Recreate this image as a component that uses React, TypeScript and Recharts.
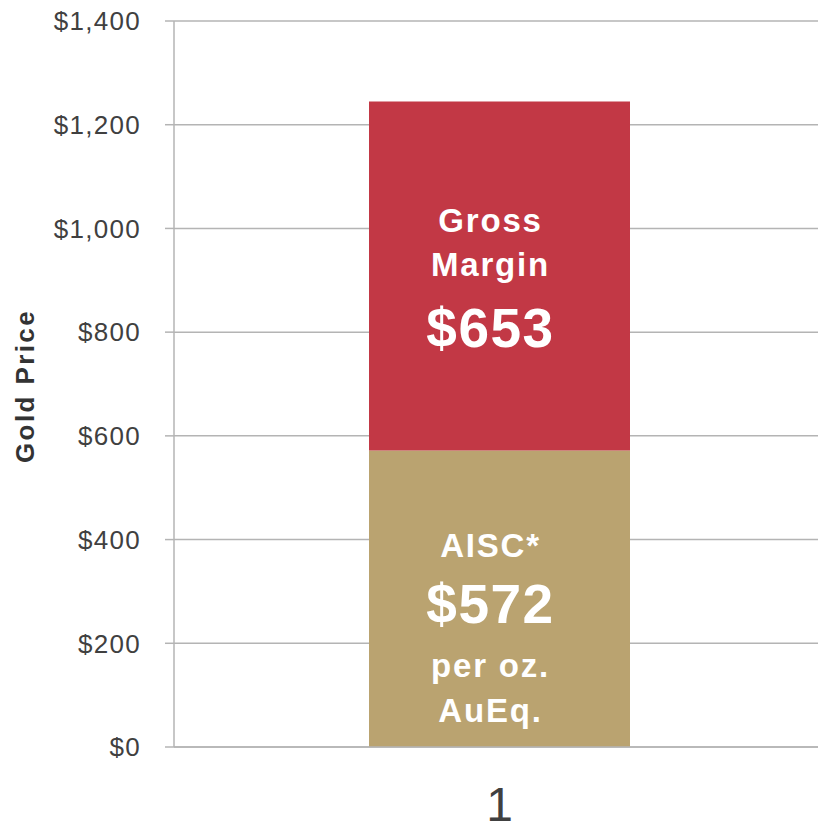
import React from 'react';
import { BarChart, Bar, XAxis, YAxis, CartesianGrid, Label } from 'recharts';

const categories = ['1'];
const aiscValues = [572];
const marginValues = [673];
const yTicks = [0, 200, 400, 600, 800, 1000, 1200, 1400];
const marginLabelLines = ['Gross', 'Margin', '$653'];
const aiscLabelLines = ['AISC*', '$572', 'per oz.', 'AuEq.'];

const data = categories.map((c, i) => ({ name: c, aisc: aiscValues[i], margin: marginValues[i] }));

const fmt = (v: number) => '$' + v.toLocaleString('en-US');

const FONT = '"Liberation Sans", Arial, sans-serif';

const MarginLabel = (props: any) => {
  const { x, y, width } = props;
  const cx = x + width / 2 - 9;
  return (
    <g fill="#ffffff" fontWeight="bold" fontFamily={FONT} textAnchor="middle">
      <text x={cx} y={y + 131} fontSize={33} letterSpacing={1.8}>{marginLabelLines[0]}</text>
      <text x={cx} y={y + 175} fontSize={33} letterSpacing={1.8}>{marginLabelLines[1]}</text>
      <text x={cx} y={y + 246} fontSize={55} letterSpacing={1.5}>{marginLabelLines[2]}</text>
    </g>
  );
};

const AiscLabel = (props: any) => {
  const { x, y, width } = props;
  const cx = x + width / 2 - 9;
  return (
    <g fill="#ffffff" fontWeight="bold" fontFamily={FONT} textAnchor="middle">
      <text x={cx} y={y + 107} fontSize={33} letterSpacing={1.8}>{aiscLabelLines[0]}</text>
      <text x={cx} y={y + 173} fontSize={55} letterSpacing={1.5}>{aiscLabelLines[1]}</text>
      <text x={cx} y={y + 227} fontSize={33} letterSpacing={1.8}>{aiscLabelLines[2]}</text>
      <text x={cx} y={y + 272} fontSize={33} letterSpacing={1.8}>{aiscLabelLines[3]}</text>
    </g>
  );
};

const YLabel = (props: any) => {
  const { viewBox } = props;
  const cy = viewBox.y + viewBox.height / 2 + 2;
  return (
    <text
      x={34}
      y={cy}
      transform={`rotate(-90 34 ${cy})`}
      textAnchor="middle"
      fontSize={26}
      fontWeight="bold"
      fill="#333333"
      letterSpacing={2.4}
      fontFamily={FONT}
    >
      Gold Price
    </text>
  );
};

export default function App() {
  return (
    <div style={{ position: 'absolute', left: 0, top: 0, fontFamily: FONT, background: '#fff' }}>
      <BarChart
        width={818}
        height={822}
        data={data}
        margin={{ top: 21, right: 0, bottom: 0, left: 0 }}
        barSize={261}
      >
        <CartesianGrid horizontal vertical={false} stroke="#b4b4b4" strokeWidth={1.5} />
        <XAxis
          dataKey="name"
          height={75}
          axisLine={{ stroke: '#b4b4b4', strokeWidth: 1.5 }}
          tickLine={false}
          tickSize={0}
          tickMargin={40}
          padding={{ left: 7, right: 0 }}
          tick={{ fontSize: 48, fill: '#404040' }}
        />
        <YAxis
          width={174}
          domain={[0, 1400]}
          ticks={yTicks}
          tickFormatter={fmt}
          axisLine={{ stroke: '#b4b4b4', strokeWidth: 1.5 }}
          tickLine={{ stroke: '#b4b4b4', strokeWidth: 1.5 }}
          tickSize={9}
          tickMargin={24}
          tick={{ fontSize: 26, fill: '#404040', letterSpacing: 1.3 }}
        >
          <Label content={<YLabel />} />
        </YAxis>
        <Bar dataKey="aisc" stackId="a" fill="#BAA370" isAnimationActive={false} label={<AiscLabel />} />
        <Bar dataKey="margin" stackId="a" fill="#C23845" isAnimationActive={false} label={<MarginLabel />} />
      </BarChart>
    </div>
  );
}
